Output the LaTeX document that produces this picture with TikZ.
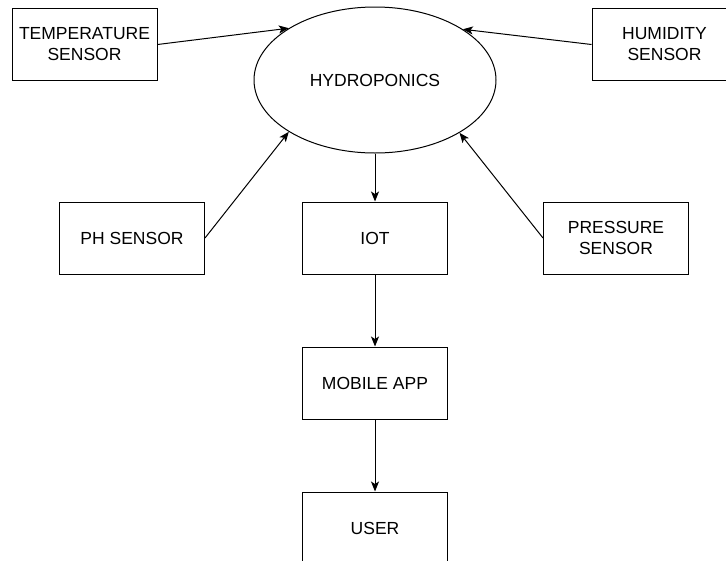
\documentclass[tikz,border=0pt]{standalone}
\usepackage{fontspec}
\setmainfont{Liberation Sans}
\usetikzlibrary{shapes.geometric,arrows.meta}
\begin{document}
\begin{tikzpicture}[x=1pt,y=-1pt,
  every node/.style={font=\fontsize{17.5}{21}\selectfont, text=black, align=center},
  blockbox/.style={draw, line width=1pt, minimum width=145pt, minimum height=72pt, inner sep=0pt},
  hubshape/.style={draw, ellipse, line width=1pt, minimum width=242pt, minimum height=146pt, inner sep=0pt},
  flow/.style={line width=1pt, -{Stealth[length=10pt,width=8pt,inset=2.5pt]}}]
  \useasboundingbox (0,0) rectangle (726,560);
  \clip (0,0) rectangle (726,560);
  \fill[white] (0,0) rectangle (726,560);

  \node[hubshape] (hyd) at (375,80) {HYDROPONICS};
  \node[blockbox] (temp) at (84.5,44.5) {TEMPERATURE\\SENSOR};
  \node[blockbox] (hum) at (664.5,44.5) {HUMIDITY\\SENSOR};
  \node[blockbox] (ph) at (132,238) {PH SENSOR};
  \node[blockbox] (iot) at (375,238) {IOT};
  \node[blockbox] (pres) at (616,238) {PRESSURE\\SENSOR};
  \node[blockbox] (app) at (375,383) {MOBILE APP};
  \node[blockbox] (user) at (375,528) {USER};

  \draw[flow] (temp.east) -- (hyd.149);
  \draw[flow] (hum.west) -- (hyd.30);
  \draw[flow] (ph.east) -- (hyd.211);
  \draw[flow] (pres.west) -- (hyd.328);
  \draw[flow] (hyd.south) -- (iot.north);
  \draw[flow] (iot.south) -- (app.north);
  \draw[flow] (app.south) -- (user.north);
\end{tikzpicture}
\end{document}
